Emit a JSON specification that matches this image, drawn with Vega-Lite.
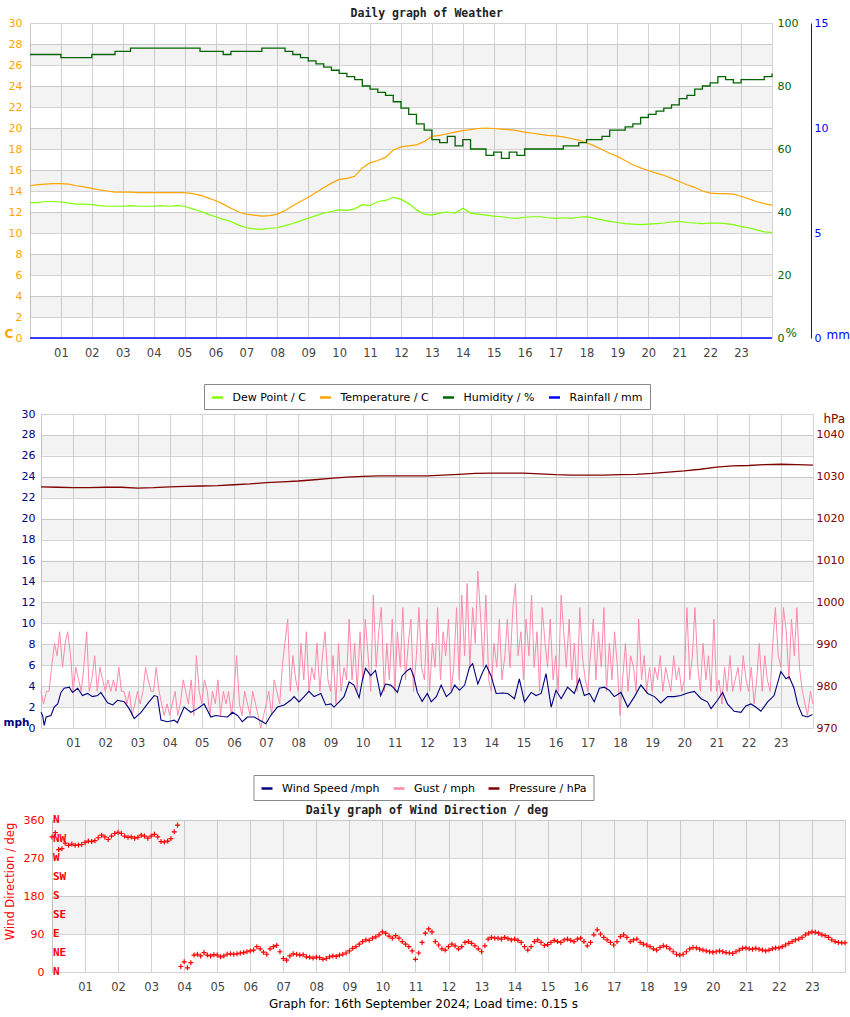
{
"$schema": "https://vega.github.io/schema/vega-lite/v6.json",
"padding": {"left": 0, "top": 7, "right": 0, "bottom": 0},
"autosize": {"type": "pad"},
"background": "white",
"config": {
  "view": {"stroke": "#d3d3d3"},
  "font": "DejaVu Sans",
  "axis": {"gridColor": "#d3d3d3", "domainColor": "#c8c8c8", "ticks": false, "labelFont": "DejaVu Sans", "labelFontSize": 11, "titleFont": "DejaVu Sans", "labelOverlap": false, "labelFlush": false, "labelBound": false},
  "title": {"font": "DejaVu Sans Mono", "fontWeight": "bold", "fontSize": 11.5, "color": "#222", "frame": "bounds", "offset": -2, "anchor": "middle"}
},
"datasets": {
  "bands": [{"lo":2,"hi":4},{"lo":6,"hi":8},{"lo":10,"hi":12},{"lo":14,"hi":16},{"lo":18,"hi":20},{"lo":22,"hi":24},{"lo":26,"hi":28}],
  "bands3": [{"lo":90,"hi":180},{"lo":270,"hi":360}],
  "rain": [{"h":0,"r":0},{"h":24,"r":0}],
  "spacer": [{"a":1}],
  "compass": [{"deg":360,"lab":"N"},{"deg":315,"lab":"NW"},{"deg":270,"lab":"W"},{"deg":225,"lab":"SW"},{"deg":180,"lab":"S"},{"deg":135,"lab":"SE"},{"deg":90,"lab":"E"},{"deg":45,"lab":"NE"},{"deg":0,"lab":"N"}],
  "wx": [
{"h":0,"t":14.5,"d":12.9,"u":90},{"h":0.25,"t":14.6,"d":12.9,"u":90},{"h":0.5,"t":14.65,"d":13.0,"u":90},{"h":0.75,"t":14.7,"d":13.0,"u":90},
{"h":1,"t":14.7,"d":12.95,"u":89},{"h":1.25,"t":14.65,"d":12.85,"u":89},{"h":1.5,"t":14.5,"d":12.75,"u":89},{"h":1.75,"t":14.4,"d":12.75,"u":89},
{"h":2,"t":14.25,"d":12.7,"u":90},{"h":2.25,"t":14.1,"d":12.6,"u":90},{"h":2.5,"t":14.0,"d":12.55,"u":90},{"h":2.75,"t":13.9,"d":12.55,"u":91},
{"h":3,"t":13.9,"d":12.55,"u":91},{"h":3.25,"t":13.9,"d":12.6,"u":92},{"h":3.5,"t":13.85,"d":12.55,"u":92},{"h":3.75,"t":13.85,"d":12.55,"u":92},
{"h":4,"t":13.85,"d":12.55,"u":92},{"h":4.25,"t":13.85,"d":12.6,"u":92},{"h":4.5,"t":13.85,"d":12.55,"u":92},{"h":4.75,"t":13.85,"d":12.6,"u":92},
{"h":5,"t":13.85,"d":12.55,"u":92},{"h":5.25,"t":13.75,"d":12.3,"u":92},{"h":5.5,"t":13.6,"d":12.1,"u":91},{"h":5.75,"t":13.35,"d":11.8,"u":91},
{"h":6,"t":13.1,"d":11.55,"u":91},{"h":6.25,"t":12.75,"d":11.3,"u":90},{"h":6.5,"t":12.35,"d":11.1,"u":91},{"h":6.75,"t":12.0,"d":10.75,"u":91},
{"h":7,"t":11.8,"d":10.5,"u":91},{"h":7.25,"t":11.7,"d":10.4,"u":91},{"h":7.5,"t":11.6,"d":10.35,"u":92},{"h":7.75,"t":11.65,"d":10.45,"u":92},
{"h":8,"t":11.8,"d":10.5,"u":92},{"h":8.25,"t":12.15,"d":10.7,"u":91},{"h":8.5,"t":12.6,"d":10.9,"u":90},{"h":8.75,"t":13.0,"d":11.15,"u":89},
{"h":9,"t":13.4,"d":11.4,"u":88},{"h":9.25,"t":13.85,"d":11.65,"u":87},{"h":9.5,"t":14.3,"d":11.9,"u":86},{"h":9.75,"t":14.75,"d":12.05,"u":85},
{"h":10,"t":15.1,"d":12.2,"u":84},{"h":10.25,"t":15.2,"d":12.15,"u":83},{"h":10.5,"t":15.4,"d":12.3,"u":82},{"h":10.75,"t":16.2,"d":12.7,"u":80},
{"h":11,"t":16.7,"d":12.6,"u":79},{"h":11.25,"t":16.9,"d":13.0,"u":78},{"h":11.5,"t":17.2,"d":13.1,"u":77},{"h":11.75,"t":17.9,"d":13.4,"u":75},
{"h":12,"t":18.2,"d":13.2,"u":73},{"h":12.25,"t":18.3,"d":12.8,"u":71},{"h":12.5,"t":18.4,"d":12.2,"u":68},{"h":12.75,"t":18.7,"d":11.8,"u":66},
{"h":13,"t":19.2,"d":11.7,"u":63},{"h":13.25,"t":19.3,"d":11.9,"u":62},{"h":13.5,"t":19.45,"d":12.0,"u":64},{"h":13.75,"t":19.6,"d":11.9,"u":61},
{"h":14,"t":19.75,"d":12.35,"u":63},{"h":14.25,"t":19.85,"d":11.9,"u":60},{"h":14.5,"t":19.95,"d":11.8,"u":60},{"h":14.75,"t":20.0,"d":11.7,"u":58},
{"h":15,"t":19.95,"d":11.6,"u":59},{"h":15.25,"t":19.9,"d":11.55,"u":57},{"h":15.5,"t":19.85,"d":11.45,"u":59},{"h":15.75,"t":19.75,"d":11.4,"u":58},
{"h":16,"t":19.6,"d":11.5,"u":60},{"h":16.25,"t":19.5,"d":11.55,"u":60},{"h":16.5,"t":19.4,"d":11.55,"u":60},{"h":16.75,"t":19.3,"d":11.45,"u":60},
{"h":17,"t":19.25,"d":11.4,"u":60},{"h":17.25,"t":19.15,"d":11.45,"u":61},{"h":17.5,"t":19.0,"d":11.4,"u":61},{"h":17.75,"t":18.85,"d":11.5,"u":62},
{"h":18,"t":18.6,"d":11.55,"u":63},{"h":18.25,"t":18.3,"d":11.4,"u":63},{"h":18.5,"t":17.95,"d":11.25,"u":64},{"h":18.75,"t":17.6,"d":11.1,"u":66},
{"h":19,"t":17.3,"d":11.0,"u":66},{"h":19.25,"t":16.9,"d":10.9,"u":67},{"h":19.5,"t":16.5,"d":10.85,"u":68},{"h":19.75,"t":16.2,"d":10.8,"u":70},
{"h":20,"t":15.95,"d":10.85,"u":71},{"h":20.25,"t":15.7,"d":10.9,"u":72},{"h":20.5,"t":15.5,"d":10.95,"u":73},{"h":20.75,"t":15.2,"d":11.05,"u":74},
{"h":21,"t":14.9,"d":11.1,"u":76},{"h":21.25,"t":14.6,"d":11.0,"u":77},{"h":21.5,"t":14.35,"d":10.95,"u":79},{"h":21.75,"t":14.0,"d":10.9,"u":80},
{"h":22,"t":13.8,"d":10.95,"u":81},{"h":22.25,"t":13.75,"d":10.95,"u":83},{"h":22.5,"t":13.75,"d":10.9,"u":82},{"h":22.75,"t":13.7,"d":10.8,"u":81},
{"h":23,"t":13.5,"d":10.6,"u":82},{"h":23.25,"t":13.25,"d":10.5,"u":82},{"h":23.5,"t":13.0,"d":10.3,"u":82},{"h":23.75,"t":12.8,"d":10.1,"u":83},
{"h":24,"t":12.65,"d":10.05,"u":84}
  ],
  "gust": [
{"h":0,"g":3.5},{"h":0.08,"g":2.3},{"h":0.17,"g":3.5},{"h":0.25,"g":3.5},{"h":0.33,"g":5.8},{"h":0.42,"g":8.1},{"h":0.5,"g":6.9},{"h":0.58,"g":9.2},{"h":0.67,"g":5.8},{"h":0.75,"g":8.1},{"h":0.83,"g":9.2},{"h":0.92,"g":6.9},
{"h":1,"g":3.5},{"h":1.08,"g":5.8},{"h":1.17,"g":4.6},{"h":1.25,"g":3.5},{"h":1.33,"g":5.8},{"h":1.42,"g":9.2},{"h":1.5,"g":3.5},{"h":1.58,"g":4.6},{"h":1.67,"g":6.9},{"h":1.75,"g":3.5},{"h":1.83,"g":5.8},{"h":1.92,"g":4.6},
{"h":2,"g":3.5},{"h":2.08,"g":4.6},{"h":2.17,"g":3.5},{"h":2.25,"g":4.6},{"h":2.33,"g":3.5},{"h":2.42,"g":5.8},{"h":2.5,"g":3.5},{"h":2.58,"g":3.5},{"h":2.67,"g":2.3},{"h":2.75,"g":3.5},{"h":2.83,"g":1.2},{"h":2.92,"g":2.3},
{"h":3,"g":3.5},{"h":3.08,"g":2.3},{"h":3.17,"g":3.5},{"h":3.25,"g":5.8},{"h":3.33,"g":4.6},{"h":3.42,"g":3.5},{"h":3.5,"g":3.5},{"h":3.58,"g":5.8},{"h":3.67,"g":3.5},{"h":3.75,"g":2.3},{"h":3.83,"g":1.2},{"h":3.92,"g":2.3},
{"h":4,"g":1.2},{"h":4.08,"g":2.3},{"h":4.17,"g":3.5},{"h":4.25,"g":1.2},{"h":4.33,"g":2.3},{"h":4.42,"g":4.6},{"h":4.5,"g":3.5},{"h":4.58,"g":2.3},{"h":4.67,"g":4.6},{"h":4.75,"g":1.2},{"h":4.83,"g":6.9},{"h":4.92,"g":3.5},
{"h":5,"g":2.3},{"h":5.08,"g":4.6},{"h":5.17,"g":3.5},{"h":5.25,"g":1.2},{"h":5.33,"g":3.5},{"h":5.42,"g":2.3},{"h":5.5,"g":4.6},{"h":5.58,"g":1.2},{"h":5.67,"g":3.5},{"h":5.75,"g":2.3},{"h":5.83,"g":3.5},{"h":5.92,"g":1.2},
{"h":6,"g":3.5},{"h":6.08,"g":6.9},{"h":6.17,"g":2.3},{"h":6.25,"g":1.2},{"h":6.33,"g":3.5},{"h":6.42,"g":2.3},{"h":6.5,"g":1.2},{"h":6.58,"g":3.5},{"h":6.67,"g":2.3},{"h":6.75,"g":1.2},{"h":6.83,"g":0},{"h":6.92,"g":1.2},
{"h":7,"g":2.3},{"h":7.08,"g":3.5},{"h":7.17,"g":1.2},{"h":7.25,"g":4.6},{"h":7.33,"g":3.5},{"h":7.42,"g":2.3},{"h":7.5,"g":5.8},{"h":7.58,"g":8.1},{"h":7.67,"g":10.4},{"h":7.75,"g":3.5},{"h":7.83,"g":6.9},{"h":7.92,"g":4.6},
{"h":8,"g":3.5},{"h":8.08,"g":8.1},{"h":8.17,"g":4.6},{"h":8.25,"g":9.2},{"h":8.33,"g":3.5},{"h":8.42,"g":5.8},{"h":8.5,"g":4.6},{"h":8.58,"g":8.1},{"h":8.67,"g":3.5},{"h":8.75,"g":6.9},{"h":8.83,"g":9.2},{"h":8.92,"g":4.6},
{"h":9,"g":3.5},{"h":9.08,"g":6.9},{"h":9.17,"g":2.3},{"h":9.25,"g":8.1},{"h":9.33,"g":3.5},{"h":9.42,"g":5.8},{"h":9.5,"g":4.6},{"h":9.58,"g":10.4},{"h":9.67,"g":4.6},{"h":9.75,"g":8.1},{"h":9.83,"g":3.5},{"h":9.92,"g":9.2},
{"h":10,"g":4.6},{"h":10.08,"g":10.4},{"h":10.17,"g":6.9},{"h":10.25,"g":3.5},{"h":10.33,"g":12.7},{"h":10.42,"g":5.8},{"h":10.5,"g":9.2},{"h":10.58,"g":11.5},{"h":10.67,"g":3.5},{"h":10.75,"g":8.1},{"h":10.83,"g":4.6},{"h":10.92,"g":10.4},
{"h":11,"g":3.5},{"h":11.08,"g":9.2},{"h":11.17,"g":5.8},{"h":11.25,"g":11.5},{"h":11.33,"g":4.6},{"h":11.42,"g":8.1},{"h":11.5,"g":10.4},{"h":11.58,"g":3.5},{"h":11.67,"g":6.9},{"h":11.75,"g":11.5},{"h":11.83,"g":5.8},{"h":11.92,"g":4.6},
{"h":12,"g":10.4},{"h":12.08,"g":3.5},{"h":12.17,"g":8.1},{"h":12.25,"g":5.8},{"h":12.33,"g":11.5},{"h":12.42,"g":4.6},{"h":12.5,"g":9.2},{"h":12.58,"g":6.9},{"h":12.67,"g":10.4},{"h":12.75,"g":3.5},{"h":12.83,"g":5.8},{"h":12.92,"g":11.5},
{"h":13,"g":4.6},{"h":13.08,"g":12.7},{"h":13.17,"g":6.9},{"h":13.25,"g":13.8},{"h":13.33,"g":5.8},{"h":13.42,"g":11.5},{"h":13.5,"g":8.1},{"h":13.58,"g":15.0},{"h":13.67,"g":10.4},{"h":13.75,"g":5.8},{"h":13.83,"g":12.7},{"h":13.92,"g":4.6},
{"h":14,"g":3.5},{"h":14.08,"g":8.1},{"h":14.17,"g":5.8},{"h":14.25,"g":10.4},{"h":14.33,"g":4.6},{"h":14.42,"g":6.9},{"h":14.5,"g":10.4},{"h":14.58,"g":5.8},{"h":14.67,"g":11.5},{"h":14.75,"g":13.8},{"h":14.83,"g":6.9},{"h":14.92,"g":9.2},
{"h":15,"g":4.6},{"h":15.08,"g":10.4},{"h":15.17,"g":6.9},{"h":15.25,"g":12.7},{"h":15.33,"g":5.8},{"h":15.42,"g":9.2},{"h":15.5,"g":3.5},{"h":15.58,"g":11.5},{"h":15.67,"g":8.1},{"h":15.75,"g":5.8},{"h":15.83,"g":10.4},{"h":15.92,"g":4.6},
{"h":16,"g":6.9},{"h":16.08,"g":3.5},{"h":16.17,"g":12.7},{"h":16.25,"g":9.2},{"h":16.33,"g":5.8},{"h":16.42,"g":10.4},{"h":16.5,"g":4.6},{"h":16.58,"g":8.1},{"h":16.67,"g":3.5},{"h":16.75,"g":11.5},{"h":16.83,"g":6.9},{"h":16.92,"g":4.6},
{"h":17,"g":3.5},{"h":17.08,"g":6.9},{"h":17.17,"g":10.4},{"h":17.25,"g":4.6},{"h":17.33,"g":9.2},{"h":17.42,"g":5.8},{"h":17.5,"g":11.5},{"h":17.58,"g":3.5},{"h":17.67,"g":8.1},{"h":17.75,"g":4.6},{"h":17.83,"g":9.2},{"h":17.92,"g":5.8},
{"h":18,"g":1.2},{"h":18.08,"g":4.6},{"h":18.17,"g":8.1},{"h":18.25,"g":3.5},{"h":18.33,"g":6.9},{"h":18.42,"g":5.8},{"h":18.5,"g":3.5},{"h":18.58,"g":10.4},{"h":18.67,"g":4.6},{"h":18.75,"g":6.9},{"h":18.83,"g":3.5},{"h":18.92,"g":5.8},
{"h":19,"g":3.5},{"h":19.08,"g":5.8},{"h":19.17,"g":4.6},{"h":19.25,"g":6.9},{"h":19.33,"g":3.5},{"h":19.42,"g":5.8},{"h":19.5,"g":4.6},{"h":19.58,"g":3.5},{"h":19.67,"g":6.9},{"h":19.75,"g":4.6},{"h":19.83,"g":5.8},{"h":19.92,"g":3.5},
{"h":20,"g":4.6},{"h":20.08,"g":11.5},{"h":20.17,"g":4.6},{"h":20.25,"g":6.9},{"h":20.33,"g":11.5},{"h":20.42,"g":5.8},{"h":20.5,"g":3.5},{"h":20.58,"g":8.1},{"h":20.67,"g":4.6},{"h":20.75,"g":6.9},{"h":20.83,"g":3.5},{"h":20.92,"g":10.4},
{"h":21,"g":3.5},{"h":21.08,"g":4.6},{"h":21.17,"g":2.3},{"h":21.25,"g":5.8},{"h":21.33,"g":3.5},{"h":21.42,"g":6.9},{"h":21.5,"g":3.5},{"h":21.58,"g":4.6},{"h":21.67,"g":5.8},{"h":21.75,"g":3.5},{"h":21.83,"g":6.9},{"h":21.92,"g":4.6},
{"h":22,"g":3.5},{"h":22.08,"g":5.8},{"h":22.17,"g":2.3},{"h":22.25,"g":4.6},{"h":22.33,"g":8.1},{"h":22.42,"g":3.5},{"h":22.5,"g":6.9},{"h":22.58,"g":4.6},{"h":22.67,"g":3.5},{"h":22.75,"g":8.1},{"h":22.83,"g":11.5},{"h":22.92,"g":6.9},
{"h":23,"g":5.8},{"h":23.08,"g":11.5},{"h":23.17,"g":9.2},{"h":23.25,"g":4.6},{"h":23.33,"g":10.4},{"h":23.42,"g":6.9},{"h":23.5,"g":11.5},{"h":23.58,"g":5.8},{"h":23.67,"g":3.5},{"h":23.75,"g":2.3},{"h":23.83,"g":1.2},{"h":23.92,"g":3.5},
{"h":24,"g":2.3}
  ],
  "wind": [
{"h":0,"w":1.5},{"h":0.05,"w":1.2},{"h":0.1,"w":0.25},{"h":0.16,"w":1.05},{"h":0.31,"w":1.2},{"h":0.41,"w":2.0},{"h":0.52,"w":2.3},{"h":0.62,"w":3.4},{"h":0.72,"w":3.8},{"h":0.88,"w":3.9},{"h":0.98,"w":3.4},
{"h":1.14,"w":3.8},{"h":1.29,"w":3.1},{"h":1.45,"w":3.3},{"h":1.6,"w":3.0},{"h":1.76,"w":3.1},{"h":1.86,"w":3.4},{"h":2.07,"w":2.4},{"h":2.23,"w":2.2},{"h":2.38,"w":2.65},{"h":2.59,"w":2.5},{"h":2.74,"w":1.85},{"h":2.9,"w":0.9},
{"h":3.11,"w":1.5},{"h":3.31,"w":2.3},{"h":3.52,"w":3.1},{"h":3.62,"w":3.0},{"h":3.73,"w":0.75},{"h":3.93,"w":0.6},{"h":4.14,"w":0.75},{"h":4.24,"w":0.5},{"h":4.45,"w":2.0},{"h":4.66,"w":1.5},{"h":4.87,"w":1.85},
{"h":5.07,"w":2.3},{"h":5.28,"w":1.05},{"h":5.43,"w":1.2},{"h":5.64,"w":1.1},{"h":5.8,"w":1.05},{"h":5.95,"w":1.5},{"h":6.11,"w":1.2},{"h":6.26,"w":0.6},{"h":6.42,"w":1.05},{"h":6.63,"w":1.05},{"h":6.83,"w":0.7},{"h":6.99,"w":0.4},
{"h":7.14,"w":1.2},{"h":7.35,"w":2.0},{"h":7.56,"w":2.2},{"h":7.76,"w":2.65},{"h":7.87,"w":3.0},{"h":8.02,"w":2.5},{"h":8.18,"w":3.0},{"h":8.33,"w":3.5},{"h":8.49,"w":3.0},{"h":8.7,"w":3.3},{"h":8.85,"w":2.2},
{"h":9.01,"w":2.3},{"h":9.11,"w":2.0},{"h":9.27,"w":2.5},{"h":9.42,"w":3.0},{"h":9.58,"w":4.4},{"h":9.73,"w":4.1},{"h":9.89,"w":2.9},{"h":9.99,"w":4.55},{"h":10.09,"w":5.7},{"h":10.25,"w":5.0},{"h":10.4,"w":5.5},
{"h":10.56,"w":3.1},{"h":10.71,"w":4.2},{"h":10.87,"w":4.1},{"h":10.97,"w":3.8},{"h":11.08,"w":3.4},{"h":11.23,"w":5.0},{"h":11.39,"w":5.5},{"h":11.49,"w":5.7},{"h":11.59,"w":4.9},{"h":11.7,"w":3.4},{"h":11.85,"w":2.55},
{"h":12.01,"w":3.3},{"h":12.13,"w":2.5},{"h":12.29,"w":3.0},{"h":12.44,"w":4.1},{"h":12.6,"w":3.0},{"h":12.75,"w":3.4},{"h":12.86,"w":4.1},{"h":13.01,"w":3.6},{"h":13.17,"w":4.1},{"h":13.32,"w":5.8},{"h":13.42,"w":6.15},
{"h":13.58,"w":4.2},{"h":13.74,"w":5.4},{"h":13.84,"w":6.0},{"h":13.99,"w":5.0},{"h":14.15,"w":3.3},{"h":14.36,"w":3.35},{"h":14.51,"w":3.3},{"h":14.72,"w":2.8},{"h":14.87,"w":4.7},{"h":15.03,"w":2.5},{"h":15.24,"w":3.4},
{"h":15.39,"w":3.1},{"h":15.55,"w":3.3},{"h":15.7,"w":5.2},{"h":15.86,"w":2.0},{"h":16.01,"w":3.6},{"h":16.17,"w":2.8},{"h":16.37,"w":3.9},{"h":16.58,"w":3.3},{"h":16.74,"w":4.7},{"h":16.89,"w":3.1},{"h":17.05,"w":3.3},
{"h":17.2,"w":2.5},{"h":17.36,"w":3.8},{"h":17.51,"w":3.9},{"h":17.67,"w":3.6},{"h":17.82,"w":3.0},{"h":18.03,"w":3.4},{"h":18.24,"w":2.0},{"h":18.45,"w":3.0},{"h":18.65,"w":4.1},{"h":18.86,"w":3.3},{"h":19.07,"w":3.0},
{"h":19.27,"w":2.4},{"h":19.48,"w":3.0},{"h":19.69,"w":3.0},{"h":19.89,"w":3.1},{"h":20.1,"w":3.35},{"h":20.31,"w":3.5},{"h":20.52,"w":2.8},{"h":20.72,"w":2.5},{"h":20.83,"w":1.85},{"h":21.03,"w":2.65},{"h":21.19,"w":3.4},
{"h":21.34,"w":2.3},{"h":21.55,"w":1.6},{"h":21.76,"w":1.5},{"h":21.91,"w":2.1},{"h":22.07,"w":2.3},{"h":22.22,"w":2.0},{"h":22.38,"w":1.6},{"h":22.59,"w":2.5},{"h":22.79,"w":3.1},{"h":23.0,"w":5.4},{"h":23.16,"w":4.7},
{"h":23.26,"w":4.9},{"h":23.41,"w":3.8},{"h":23.52,"w":2.3},{"h":23.67,"w":1.2},{"h":23.83,"w":1.05},{"h":23.98,"w":1.3}
  ],
  "pres": [
{"h":0,"p":1027.6},{"h":0.5,"p":1027.5},{"h":1,"p":1027.4},{"h":1.5,"p":1027.4},{"h":2,"p":1027.5},{"h":2.5,"p":1027.5},{"h":3,"p":1027.3},{"h":3.5,"p":1027.4},
{"h":4,"p":1027.6},{"h":4.5,"p":1027.7},{"h":5,"p":1027.8},{"h":5.5,"p":1027.9},{"h":6,"p":1028.1},{"h":6.5,"p":1028.3},{"h":7,"p":1028.6},{"h":7.5,"p":1028.8},
{"h":8,"p":1029.0},{"h":8.5,"p":1029.3},{"h":9,"p":1029.6},{"h":9.5,"p":1029.9},{"h":10,"p":1030.1},{"h":10.5,"p":1030.2},{"h":11,"p":1030.2},{"h":11.5,"p":1030.2},
{"h":12,"p":1030.2},{"h":12.5,"p":1030.4},{"h":13,"p":1030.6},{"h":13.5,"p":1030.8},{"h":14,"p":1030.9},{"h":14.5,"p":1030.9},{"h":15,"p":1030.9},{"h":15.5,"p":1030.7},
{"h":16,"p":1030.5},{"h":16.5,"p":1030.4},{"h":17,"p":1030.4},{"h":17.5,"p":1030.4},{"h":18,"p":1030.5},{"h":18.5,"p":1030.6},{"h":19,"p":1030.8},{"h":19.5,"p":1031.1},
{"h":20,"p":1031.4},{"h":20.5,"p":1031.8},{"h":21,"p":1032.3},{"h":21.5,"p":1032.6},{"h":22,"p":1032.7},{"h":22.5,"p":1032.9},{"h":23,"p":1033.0},{"h":23.5,"p":1032.9},{"h":24,"p":1032.8}
  ],
  "wd": [
{"h":0.0,"v":320},{"h":0.1,"v":330},{"h":0.2,"v":290},{"h":0.3,"v":292},{"h":0.4,"v":305},{"h":0.5,"v":300},{"h":0.6,"v":303},{"h":0.7,"v":300},{"h":0.8,"v":301},{"h":0.9,"v":302},
{"h":1.0,"v":307},{"h":1.1,"v":310},{"h":1.2,"v":309},{"h":1.3,"v":311},{"h":1.4,"v":318},{"h":1.5,"v":324},{"h":1.6,"v":320},{"h":1.7,"v":314},{"h":1.8,"v":322},{"h":1.9,"v":328},
{"h":2.0,"v":331},{"h":2.1,"v":328},{"h":2.2,"v":322},{"h":2.3,"v":319},{"h":2.4,"v":320},{"h":2.5,"v":317},{"h":2.6,"v":319},{"h":2.7,"v":324},{"h":2.8,"v":322},{"h":2.9,"v":317},
{"h":3.0,"v":322},{"h":3.1,"v":326},{"h":3.2,"v":320},{"h":3.3,"v":309},{"h":3.4,"v":308},{"h":3.5,"v":310},{"h":3.6,"v":316},{"h":3.7,"v":332},{"h":3.8,"v":348},
{"h":3.9,"v":13},{"h":4.0,"v":24},{"h":4.1,"v":10},{"h":4.2,"v":22},{"h":4.3,"v":40},{"h":4.4,"v":42},{"h":4.5,"v":38},{"h":4.6,"v":46},{"h":4.7,"v":40},{"h":4.8,"v":38},{"h":4.9,"v":41},
{"h":5.0,"v":40},{"h":5.1,"v":36},{"h":5.2,"v":38},{"h":5.3,"v":42},{"h":5.4,"v":43},{"h":5.5,"v":42},{"h":5.6,"v":43},{"h":5.7,"v":45},{"h":5.8,"v":46},{"h":5.9,"v":48},
{"h":6.0,"v":50},{"h":6.1,"v":52},{"h":6.2,"v":60},{"h":6.3,"v":55},{"h":6.4,"v":47},{"h":6.5,"v":42},{"h":6.6,"v":55},{"h":6.7,"v":60},{"h":6.8,"v":63},{"h":6.9,"v":48},
{"h":7.0,"v":32},{"h":7.1,"v":28},{"h":7.2,"v":38},{"h":7.3,"v":43},{"h":7.4,"v":42},{"h":7.5,"v":40},{"h":7.6,"v":41},{"h":7.7,"v":36},{"h":7.8,"v":35},{"h":7.9,"v":33},
{"h":8.0,"v":35},{"h":8.1,"v":34},{"h":8.2,"v":30},{"h":8.3,"v":32},{"h":8.4,"v":36},{"h":8.5,"v":38},{"h":8.6,"v":37},{"h":8.7,"v":40},{"h":8.8,"v":42},{"h":8.9,"v":45},
{"h":9.0,"v":50},{"h":9.1,"v":56},{"h":9.2,"v":60},{"h":9.3,"v":66},{"h":9.4,"v":72},{"h":9.5,"v":76},{"h":9.6,"v":75},{"h":9.7,"v":80},{"h":9.8,"v":83},{"h":9.9,"v":88},
{"h":10.0,"v":95},{"h":10.1,"v":92},{"h":10.2,"v":85},{"h":10.3,"v":80},{"h":10.4,"v":86},{"h":10.5,"v":80},{"h":10.6,"v":72},{"h":10.7,"v":66},{"h":10.8,"v":60},{"h":10.9,"v":50},
{"h":11.0,"v":30},{"h":11.1,"v":45},{"h":11.2,"v":70},{"h":11.3,"v":92},{"h":11.4,"v":102},{"h":11.5,"v":95},{"h":11.6,"v":72},{"h":11.7,"v":64},{"h":11.8,"v":55},{"h":11.9,"v":52},
{"h":12.0,"v":60},{"h":12.1,"v":66},{"h":12.2,"v":62},{"h":12.3,"v":55},{"h":12.4,"v":60},{"h":12.5,"v":70},{"h":12.6,"v":72},{"h":12.7,"v":68},{"h":12.8,"v":62},{"h":12.9,"v":55},
{"h":13.0,"v":48},{"h":13.1,"v":62},{"h":13.2,"v":78},{"h":13.3,"v":82},{"h":13.4,"v":80},{"h":13.5,"v":80},{"h":13.6,"v":78},{"h":13.7,"v":82},{"h":13.8,"v":79},{"h":13.9,"v":76},
{"h":14.0,"v":78},{"h":14.1,"v":75},{"h":14.2,"v":70},{"h":14.3,"v":60},{"h":14.4,"v":52},{"h":14.5,"v":60},{"h":14.6,"v":72},{"h":14.7,"v":76},{"h":14.8,"v":70},{"h":14.9,"v":63},
{"h":15.0,"v":65},{"h":15.1,"v":70},{"h":15.2,"v":75},{"h":15.3,"v":72},{"h":15.4,"v":70},{"h":15.5,"v":76},{"h":15.6,"v":78},{"h":15.7,"v":75},{"h":15.8,"v":72},{"h":15.9,"v":78},
{"h":16.0,"v":80},{"h":16.1,"v":72},{"h":16.2,"v":62},{"h":16.3,"v":70},{"h":16.4,"v":88},{"h":16.5,"v":100},{"h":16.6,"v":90},{"h":16.7,"v":82},{"h":16.8,"v":76},{"h":16.9,"v":70},
{"h":17.0,"v":64},{"h":17.1,"v":72},{"h":17.2,"v":84},{"h":17.3,"v":88},{"h":17.4,"v":82},{"h":17.5,"v":72},{"h":17.6,"v":76},{"h":17.7,"v":78},{"h":17.8,"v":70},{"h":17.9,"v":66},
{"h":18.0,"v":64},{"h":18.1,"v":60},{"h":18.2,"v":55},{"h":18.3,"v":52},{"h":18.4,"v":58},{"h":18.5,"v":62},{"h":18.6,"v":60},{"h":18.7,"v":55},{"h":18.8,"v":48},{"h":18.9,"v":42},
{"h":19.0,"v":40},{"h":19.1,"v":42},{"h":19.2,"v":48},{"h":19.3,"v":55},{"h":19.4,"v":58},{"h":19.5,"v":57},{"h":19.6,"v":54},{"h":19.7,"v":52},{"h":19.8,"v":50},{"h":19.9,"v":48},
{"h":20.0,"v":47},{"h":20.1,"v":48},{"h":20.2,"v":50},{"h":20.3,"v":48},{"h":20.4,"v":46},{"h":20.5,"v":45},{"h":20.6,"v":44},{"h":20.7,"v":48},{"h":20.8,"v":52},{"h":20.9,"v":56},
{"h":21.0,"v":57},{"h":21.1,"v":55},{"h":21.2,"v":54},{"h":21.3,"v":56},{"h":21.4,"v":54},{"h":21.5,"v":52},{"h":21.6,"v":50},{"h":21.7,"v":52},{"h":21.8,"v":55},{"h":21.9,"v":57},
{"h":22.0,"v":57},{"h":22.1,"v":60},{"h":22.2,"v":64},{"h":22.3,"v":68},{"h":22.4,"v":72},{"h":22.5,"v":76},{"h":22.6,"v":78},{"h":22.7,"v":82},{"h":22.8,"v":88},{"h":22.9,"v":92},
{"h":23.0,"v":95},{"h":23.1,"v":94},{"h":23.2,"v":92},{"h":23.3,"v":88},{"h":23.4,"v":86},{"h":23.5,"v":82},{"h":23.6,"v":76},{"h":23.7,"v":72},{"h":23.8,"v":70},{"h":23.9,"v":69},{"h":24.0,"v":69}
  ]
},
"vconcat": [
 {"hconcat": [
  {"width": 3, "height": 10, "view": {"stroke": null}, "data": {"name": "spacer"}, "mark": {"type": "point", "size": 0, "opacity": 0}},
  {
  "width": 742, "height": 315,
  "title": {"text": "Daily graph of Weather"},
  "resolve": {"scale": {"y": "independent", "x": "independent"}},
  "layer": [
     {"data": {"name": "bands"}, "mark": {"type": "rect", "color": "#000", "opacity": 0.047},
      "encoding": {
        "y": {"field": "lo", "type": "quantitative", "title": "C", "scale": {"domain": [0, 30], "nice": false},
          "axis": {"values": [0,2,4,6,8,10,12,14,16,18,20,22,24,26,28,30], "labelOverlap": false, "grid": true, "labelColor": "#ffa500", "labelPadding": 8, "titleColor": "#ffa500", "titleFontWeight": "bold", "titleFontSize": 12, "titleAngle": 0, "titleAlign": "left", "titleBaseline": "middle", "titleX": -26, "titleY": 310}},
        "y2": {"field": "hi"}}},
     {"data": {"name": "wx"}, "transform": [{"fold": ["t", "d"]}],
      "mark": {"type": "line", "strokeWidth": 1.2},
      "encoding": {
        "x": {"field": "h", "type": "quantitative", "title": null, "scale": {"domain": [0, 24], "nice": false},
          "axis": {"values": [1,2,3,4,5,6,7,8,9,10,11,12,13,14,15,16,17,18,19,20,21,22,23], "labelOverlap": false, "format": "02d", "grid": true, "domain": false, "labelColor": "#444", "labelFontSize": 11.5, "labelPadding": 9}},
        "y": {"field": "value", "type": "quantitative", "title": "C", "scale": {"domain": [0, 30], "nice": false}, "axis": null},
        "color": {"field": "key", "type": "nominal",
          "scale": {"domain": ["d", "t", "u", "r"], "range": ["#7fff00", "#ffa500", "#006400", "#0000ff"]},
          "legend": {"orient": "none", "legendX": 174, "legendY": 361, "direction": "horizontal", "title": null,
            "labelExpr": "datum.label == 'd' ? 'Dew Point / C' : datum.label == 't' ? 'Temperature / C' : datum.label == 'u' ? 'Humidity / %' : 'Rainfall / mm'",
            "symbolType": "stroke", "symbolStrokeWidth": 2.5, "symbolSize": 120, "labelFontSize": 11, "labelColor": "#000", "labelFont": "DejaVu Sans",
            "strokeColor": "#888", "fillColor": "#fff", "padding": 6.5, "columnPadding": 8, "labelOffset": 8}}}},
   {"data": {"name": "wx"}, "mark": {"type": "line", "interpolate": "step-after", "strokeWidth": 1.3},
    "encoding": {
      "x": {"field": "h", "type": "quantitative", "title": null, "scale": {"domain": [0, 24], "nice": false}, "axis": null},
      "y": {"field": "u", "type": "quantitative", "title": "%", "scale": {"domain": [0, 100], "nice": false},
        "axis": {"orient": "right", "values": [0,20,40,60,80,100], "labelOverlap": false, "grid": false, "domain": false, "labelColor": "#006400", "labelPadding": 5, "titleColor": "#006400", "titleAngle": 0, "titleAlign": "left", "titleBaseline": "middle", "titleX": 13, "titleY": 309, "titleFontSize": 12, "titleFontWeight": "normal"}},
      "color": {"datum": "u"}}},
   {"data": {"name": "rain"}, "mark": {"type": "line", "strokeWidth": 1.5},
    "encoding": {
      "x": {"field": "h", "type": "quantitative", "title": null, "scale": {"domain": [0, 24], "nice": false}, "axis": null},
      "y": {"field": "r", "type": "quantitative", "title": "mm", "scale": {"domain": [0, 15], "nice": false},
        "axis": {"orient": "right", "offset": 39, "values": [0,5,10,15], "labelOverlap": false, "grid": false, "domain": true, "domainColor": "#0000ff", "labelColor": "#0000ff", "labelPadding": 3, "titleColor": "#0000ff", "titleAngle": 0, "titleAlign": "left", "titleBaseline": "middle", "titleX": 15, "titleY": 311, "titleFontSize": 12, "titleFontWeight": "normal"}},
      "color": {"datum": "r"}}}
  ]
  }],
  "spacing": 0,
  "resolve": {"scale": {"color": "independent"}, "legend": {"color": "independent"}}
 },
 {"hconcat": [
  {"width": 2, "height": 10, "view": {"stroke": null}, "data": {"name": "spacer"}, "mark": {"type": "point", "size": 0, "opacity": 0}},
  {
  "width": 772, "height": 314,
  "resolve": {"scale": {"y": "independent", "x": "independent"}},
  "layer": [
     {"data": {"name": "bands"}, "mark": {"type": "rect", "color": "#000", "opacity": 0.047},
      "encoding": {
        "y": {"field": "lo", "type": "quantitative", "title": "mph", "scale": {"domain": [0, 30], "nice": false},
          "axis": {"values": [0,2,4,6,8,10,12,14,16,18,20,22,24,26,28,30], "labelOverlap": false, "grid": true, "labelColor": "#000080", "labelPadding": 6, "titleColor": "#000080", "titleFontWeight": "bold", "titleFontSize": 10.5, "titleAngle": 0, "titleAlign": "left", "titleBaseline": "middle", "titleX": -38, "titleY": 308}},
        "y2": {"field": "hi"}}},
     {"data": {"name": "gust"}, "mark": {"type": "line", "strokeWidth": 1},
      "encoding": {
        "x": {"field": "h", "type": "quantitative", "title": " ", "scale": {"domain": [0, 24], "nice": false},
          "axis": {"values": [1,2,3,4,5,6,7,8,9,10,11,12,13,14,15,16,17,18,19,20,21,22,23], "labelOverlap": false, "format": "02d", "grid": true, "domain": false, "labelColor": "#444", "labelFontSize": 11.5, "labelPadding": 9, "titleFontSize": 4, "titleBaseline": "bottom", "titleY": 78}},
        "y": {"field": "g", "type": "quantitative", "title": "mph", "scale": {"domain": [0, 30], "nice": false}, "axis": null},
        "color": {"datum": "g",
          "scale": {"domain": ["w", "g", "p"], "range": ["#000080", "#ff88aa", "#800000"]},
          "legend": {"orient": "none", "legendX": 212.5, "legendY": 361, "direction": "horizontal", "title": null,
            "labelExpr": "datum.label == 'w' ? 'Wind Speed /mph' : datum.label == 'g' ? 'Gust / mph' : 'Pressure / hPa'",
            "symbolType": "stroke", "symbolStrokeWidth": 2.5, "symbolSize": 120, "labelFontSize": 11, "labelColor": "#000", "labelFont": "DejaVu Sans",
            "strokeColor": "#888", "fillColor": "#fff", "padding": 6.5, "columnPadding": 8, "labelOffset": 8}}}},
     {"data": {"name": "wind"}, "mark": {"type": "line", "strokeWidth": 1.1},
      "encoding": {
        "x": {"field": "h", "type": "quantitative", "title": " ", "scale": {"domain": [0, 24], "nice": false}, "axis": null},
        "y": {"field": "w", "type": "quantitative", "title": "mph", "scale": {"domain": [0, 30], "nice": false}, "axis": null},
        "color": {"datum": "w"}}},
   {"data": {"name": "pres"}, "mark": {"type": "line", "strokeWidth": 1.3},
    "encoding": {
      "x": {"field": "h", "type": "quantitative", "title": " ", "scale": {"domain": [0, 24], "nice": false}, "axis": null},
      "y": {"field": "p", "type": "quantitative", "title": "hPa", "scale": {"domain": [970, 1045], "nice": false, "zero": false},
        "axis": {"orient": "right", "values": [970,980,990,1000,1010,1020,1030,1040], "format": "d", "labelOverlap": false, "grid": false, "domain": false, "labelColor": "#800000", "labelPadding": 3, "titleColor": "#800000", "titleAngle": 0, "titleAlign": "left", "titleBaseline": "middle", "titleX": 10, "titleY": 4, "titleFontSize": 12, "titleFontWeight": "normal"}},
      "color": {"datum": "p"}}}
  ]
  }],
  "spacing": 0,
  "resolve": {"scale": {"color": "independent"}, "legend": {"color": "independent"}}
 },
 {"hconcat": [
  {"width": 3, "height": 10, "view": {"stroke": null}, "data": {"name": "spacer"}, "mark": {"type": "point", "size": 0, "opacity": 0}},
  {
  "width": 793, "height": 152,
  "title": {"text": "Daily graph of Wind Direction / deg"},
  "resolve": {"scale": {"y": "independent", "x": "independent"}},
  "layer": [
   {"data": {"name": "bands3"}, "mark": {"type": "rect", "color": "#000", "opacity": 0.047},
    "encoding": {
      "y": {"field": "lo", "type": "quantitative", "title": "Wind Direction / deg", "scale": {"domain": [0, 360], "nice": false},
        "axis": {"values": [0,90,180,270,360], "labelOverlap": false, "grid": true, "labelColor": "#ff0000", "labelPadding": 8, "titleColor": "#ff0000", "titleFontWeight": "normal", "titleFontSize": 11.5, "titlePadding": 8, "titleY": 61}},
      "y2": {"field": "hi"}}},
   {"data": {"name": "wd"}, "mark": {"type": "point", "shape": "M-1,0L1,0M0,-1L0,1", "size": 25, "filled": false, "strokeWidth": 1.2, "color": "#ff0000", "opacity": 1},
    "encoding": {
      "x": {"field": "h", "type": "quantitative", "title": "Graph for: 16th September 2024; Load time: 0.15 s", "scale": {"domain": [0, 24], "nice": false},
        "axis": {"values": [1,2,3,4,5,6,7,8,9,10,11,12,13,14,15,16,17,18,19,20,21,22,23], "labelOverlap": false, "format": "02d", "grid": true, "domain": false, "labelColor": "#444", "labelFontSize": 11.5, "labelPadding": 9, "titleColor": "#000", "titleFontWeight": "normal", "titleFontSize": 12, "titleX": 371, "titleY": 26, "titleBaseline": "top"}},
      "y": {"field": "v", "type": "quantitative", "title": "Wind Direction / deg", "scale": {"domain": [0, 360], "nice": false}, "axis": null}}},
   {"data": {"name": "compass"}, "mark": {"type": "text", "align": "left", "baseline": "middle", "dx": 1, "font": "DejaVu Sans Mono", "fontWeight": "bold", "fontSize": 11, "color": "#ff0000"},
    "encoding": {
      "x": {"datum": 0, "type": "quantitative", "scale": {"domain": [0, 24], "nice": false}, "axis": null},
      "y": {"field": "deg", "type": "quantitative", "title": "Wind Direction / deg", "scale": {"domain": [0, 360], "nice": false}, "axis": null},
      "text": {"field": "lab"}}}
  ]
  }],
  "spacing": 0
 }
],
"spacing": -3,
"resolve": {"scale": {"color": "independent", "x": "independent", "y": "independent"}, "legend": {"color": "independent"}}
}
